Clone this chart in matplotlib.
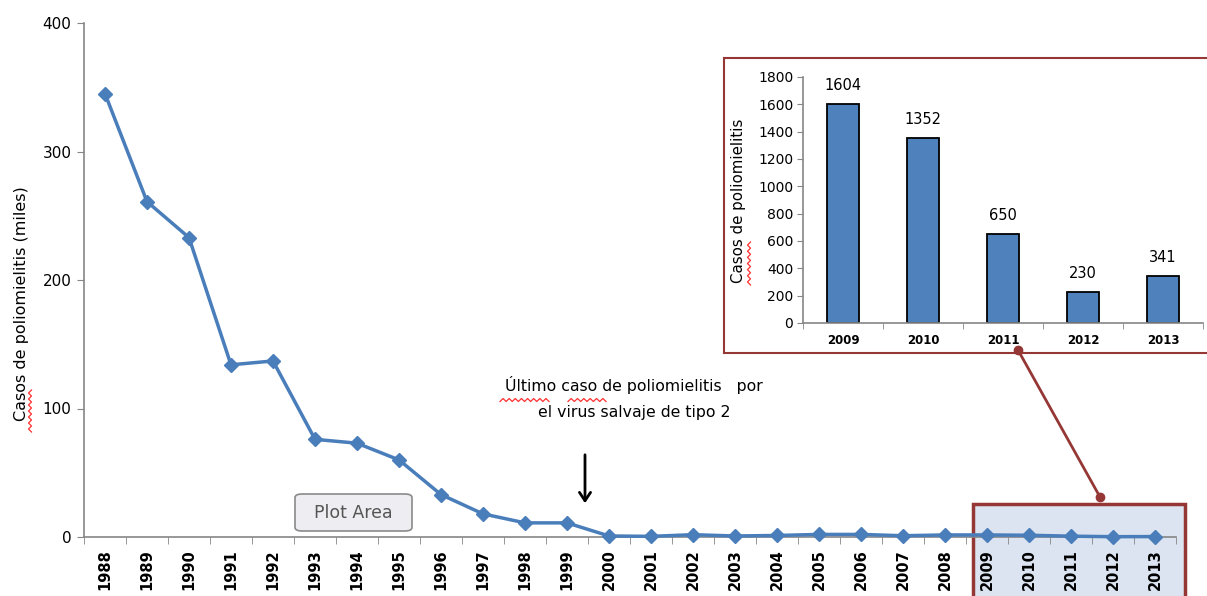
import matplotlib
matplotlib.use("Agg")
from matplotlib import pyplot as plt
from matplotlib.patches import Rectangle, FancyBboxPatch
import numpy as np

# main series: polio cases (thousands)
years = [str(y) for y in range(1988, 2014)]
cases_k = [345, 261, 233, 134, 137, 76, 73, 60, 33, 18, 11, 11, 0.8,
           0.5, 1.8, 0.8, 1.2, 2.0, 2.0, 1.0, 1.6, 1.6, 1.35, 0.65, 0.23, 0.34]

# inset: last five years (cases)
inset_years = ["2009", "2010", "2011", "2012", "2013"]
inset_cases = [1604, 1352, 650, 230, 341]
inset_labels = ["1604", "1352", "650", "230", "341"]

W, H = 1207, 596
fig = plt.figure(figsize=(W / 100, H / 100), dpi=100)


def px(x, y):
    # figure pixel (top-left origin) to figure fraction
    return x / W, 1 - y / H


def squiggle(x0, y0, x1, y1, n):
    t = np.linspace(0, 1, 2 * n + 1)
    xs = x0 + (x1 - x0) * t
    ys = y0 + (y1 - y0) * t
    off = np.array([(-1.5 if i % 2 else 1.5) for i in range(len(t))])
    if x1 - x0 > y1 - y0:
        ys = ys + off
    else:
        xs = xs + off
    fx, fy = zip(*[px(a, b) for a, b in zip(xs, ys)])
    fig.add_artist(plt.Line2D(fx, fy, color="#ff3030", lw=0.9, zorder=10))


grey = "#868686"
dred = "#953735"

# ---------------- main chart ----------------
l, b = px(84, 537)
_, t = px(0, 23)
ax = fig.add_axes([l, b, 1092 / W, t - b])
ax.patch.set_alpha(0)
x = np.arange(len(years))
ax.plot(x, cases_k, color="#4a7ebb", lw=2.5, marker="D", ms=7, zorder=3, clip_on=False)
ax.set_xlim(-0.5, len(years) - 0.5)
ax.set_ylim(0, 400)
ax.set_yticks([0, 100, 200, 300, 400])
ax.set_xticks(x)
ax.set_xticklabels(years, rotation=90, fontsize=10.5, fontweight="bold")
ax.set_xticks(np.arange(-0.5, len(years)), minor=True)
ax.tick_params(axis="x", which="major", length=0, pad=9)
ax.tick_params(axis="x", which="minor", length=5, color=grey, direction="out")
ax.tick_params(axis="y", length=5, color=grey, labelsize=11, pad=4)
for s in ["top", "right"]:
    ax.spines[s].set_visible(False)
for s in ["left", "bottom"]:
    ax.spines[s].set_color(grey)
    ax.spines[s].set_linewidth(1.2)
fig.text(*px(22, 304), "Casos de poliomielitis (miles)", rotation=90,
         ha="center", va="center", fontsize=11.5)
squiggle(30, 390, 30, 432, 7)

# highlight of the last five years
rx0, ry0 = px(973, 600)
rx1, ry1 = px(1185, 504)
ax.add_patch(Rectangle((rx0, ry0), rx1 - rx0, ry1 - ry0, transform=fig.transFigure,
                       facecolor="#dbe4f0", edgecolor=dred, lw=2.5, clip_on=False, zorder=1))

# annotation
fig.text(*px(634, 385), "Último caso de poliomielitis   por", ha="center", va="center", fontsize=11.3)
fig.text(*px(634, 412), "el virus salvaje de tipo 2", ha="center", va="center", fontsize=11.3)
squiggle(500, 400, 549, 400, 8)
squiggle(568, 400, 606, 400, 6)
fig.add_artist(matplotlib.patches.FancyArrowPatch(px(585, 452), px(585, 506), transform=fig.transFigure,
                                                  arrowstyle="->,head_length=6,head_width=4",
                                                  color="black", lw=2))

# "Plot Area" tooltip
bx0, by0 = px(295, 531)
bx1, by1 = px(412, 494)
fig.add_artist(FancyBboxPatch((bx0, by0), bx1 - bx0, by1 - by0, boxstyle="round,pad=0,rounding_size=0.006",
                              transform=fig.transFigure, facecolor="#eeeef2", edgecolor="#8a8a8a", lw=1.2,
                              zorder=5))
fig.text(*px(353, 513), "Plot Area", ha="center", va="center", fontsize=12.5, color="#555555", zorder=6)

# ---------------- inset ----------------
ix0, iy0 = px(724, 353)
ix1, iy1 = px(1215, 58)
fig.add_artist(Rectangle((ix0, iy0), ix1 - ix0, iy1 - iy0, transform=fig.transFigure,
                         facecolor="white", edgecolor=dred, lw=1.5, zorder=2.5))

l2, b2 = px(803, 323)
_, t2 = px(0, 77)
ax2 = fig.add_axes([l2, b2, 400 / W, t2 - b2], zorder=3)
ax2.patch.set_alpha(0)
xi = np.arange(len(inset_years))
ax2.bar(xi, inset_cases, width=0.4, color="#4f81bd", edgecolor="black", lw=1.3)
for xv, v, lab in zip(xi, inset_cases, inset_labels):
    ax2.text(xv, v + 80, lab, ha="center", va="bottom", fontsize=10.5)
ax2.set_xlim(-0.5, len(inset_years) - 0.5)
ax2.set_ylim(0, 1800)
ax2.set_yticks(np.arange(0, 1801, 200))
ax2.set_xticks(xi)
ax2.set_xticklabels(inset_years, fontsize=8.5, fontweight="bold")
ax2.set_xticks(np.arange(-0.5, len(inset_years)), minor=True)
ax2.tick_params(axis="x", which="major", length=0, pad=8)
ax2.tick_params(axis="x", which="minor", length=4, color=grey)
ax2.tick_params(axis="y", length=4, color=grey, labelsize=10, pad=3)
for s in ["top", "right"]:
    ax2.spines[s].set_visible(False)
for s in ["left", "bottom"]:
    ax2.spines[s].set_color(grey)
    ax2.spines[s].set_linewidth(1.2)
fig.text(*px(738, 201), "Casos de poliomielitis", rotation=90, ha="center", va="center", fontsize=10.8)
squiggle(749, 242, 749, 285, 7)

# connector
cx, cy = zip(px(1100, 497), px(1018, 350))
fig.add_artist(plt.Line2D(cx, cy, color=dred, lw=2, marker="o", ms=6, zorder=4))

fig.savefig("out.png", dpi=100)
